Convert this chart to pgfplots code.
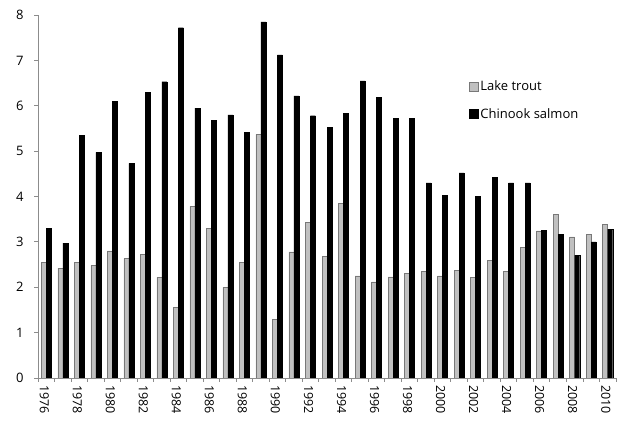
\documentclass[border=0pt]{standalone}
\usepackage{pgfplots}
\pgfplotsset{compat=1.18}
\usepackage{pgfplotstable}
\usepackage{fontspec}
\setmainfont{Open Sans}
\definecolor{trout}{RGB}{192,192,192}
\definecolor{troutedge}{RGB}{120,120,120}
\definecolor{axisgray}{RGB}{140,140,140}
\pgfplotstableread{
year trout chinook
1976 2.55 3.30
1977 2.42 2.97
1978 2.55 5.35
1979 2.48 4.97
1980 2.80 6.10
1981 2.63 4.73
1982 2.73 6.30
1983 2.22 6.53
1984 1.56 7.72
1985 3.78 5.95
1986 3.30 5.68
1987 2.00 5.80
1988 2.55 5.41
1989 5.37 7.85
1990 1.30 7.12
1991 2.78 6.22
1992 3.43 5.78
1993 2.68 5.52
1994 3.85 5.83
1995 2.25 6.55
1996 2.12 6.18
1997 2.23 5.73
1998 2.30 5.72
1999 2.35 4.30
2000 2.25 4.03
2001 2.38 4.52
2002 2.22 4.00
2003 2.60 4.42
2004 2.35 4.30
2005 2.88 4.30
2006 3.24 3.25
2007 3.61 3.16
2008 3.11 2.71
2009 3.17 3.00
2010 3.38 3.28
}\datatable
\begin{document}
\begin{tikzpicture}
\begin{axis}[
  scale only axis,
  width=578pt, height=363pt,
  ybar=0pt, bar width=5pt,
  xmin=1975.5, xmax=2010.5,
  ymin=0, ymax=8,
  axis x line=bottom, axis y line=left,
  axis line style={-, draw=axisgray, line width=0.8pt},
  xtick={1976,1978,...,2010},
  xticklabel style={rotate=-90, anchor=west, yshift=-2pt, font=\fontsize{12.5}{14}\selectfont, /pgf/number format/1000 sep={}},
  major x tick style={draw=none},
  minor xtick={1975.5,1976.5,...,2010.5},
  minor x tick style={draw=axisgray, line width=0.8pt},
  minor tick length=4pt,
  xtick pos=bottom, ytick pos=left,
  ytick={0,1,...,8},
  yticklabel style={font=\fontsize{13}{14}\selectfont, xshift=-7pt},
  major y tick style={draw=axisgray, line width=0.8pt},
  major tick length=4pt,
  tick align=outside,
  /pgf/number format/assume math mode=true,
  legend style={at={(0.74,0.83)}, anchor=north west, draw=none, fill=none,
    font=\fontsize{13}{15}\selectfont, row sep=12pt,
    /tikz/every even column/.append style={column sep=0pt}},
  legend cell align=left,
  legend image code/.code={\draw[#1] (0pt,-4.5pt) rectangle (9pt,4.5pt);},
]
\addplot[fill=trout, draw=troutedge, line width=0.5pt] table[x=year, y=trout] {\datatable};
\addplot[fill=black, draw=black] table[x=year, y=chinook] {\datatable};
\legend{Lake trout, Chinook salmon}
\end{axis}
\pgfresetboundingbox
\path (-38pt,-45pt) rectangle (581pt,378pt);
\end{tikzpicture}
\end{document}
